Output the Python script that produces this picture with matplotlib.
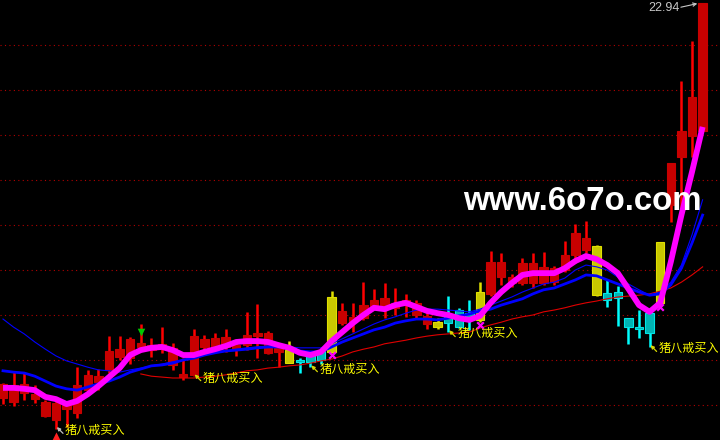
import matplotlib
matplotlib.use('Agg')
import matplotlib.pyplot as plt
from matplotlib.patches import Rectangle
import numpy as np

highs = [14.49, 14.73, 14.71, 14.44, 14.11, 14.11, 14.07, 14.84, 14.78, 14.80,
         15.53, 15.53, 15.51, 15.80, 15.49, 15.73, 15.38, 15.04, 15.69, 15.56,
         15.60, 15.69, 15.44, 16.07, 16.24, 15.64, 15.33, 15.42, 15.04, 15.16,
         15.22, 16.53, 16.27, 16.27, 16.73, 16.58, 16.71, 16.60, 16.47, 16.33,
         16.07, 15.93, 16.42, 16.16, 16.33, 16.73, 17.42, 17.38, 16.91, 17.27,
         17.38, 17.40, 17.09, 17.64, 18.02, 18.09, 17.56, 16.78, 16.64, 15.93,
         16.11, 16.16, 17.62, 19.38, 21.20, 22.09, 22.94]
lows = [14.02, 13.98, 14.11, 14.04, 13.73, 13.47, 13.51, 13.71, 14.24, 14.33,
        14.71, 15.00, 14.91, 15.22, 15.07, 15.16, 14.78, 14.56, 14.64, 15.20,
        15.18, 15.18, 15.09, 15.22, 15.04, 15.13, 14.84, 14.93, 14.71, 14.84,
        14.91, 15.16, 15.78, 15.62, 15.89, 16.13, 15.93, 16.00, 15.96, 15.91,
        15.69, 15.69, 15.62, 15.71, 15.67, 15.84, 16.42, 16.67, 16.62, 16.67,
        16.60, 16.67, 16.67, 16.96, 17.16, 17.38, 16.42, 16.18, 15.76, 15.36,
        15.49, 15.29, 16.27, 18.07, 18.31, 19.51, 20.09]
opens = [14.16, 14.07, 14.27, 14.13, 13.76, 13.67, 13.91, 13.82, 14.33, 14.51,
         14.78, 15.07, 15.04, 15.29, 15.22, 15.24, 14.89, 14.62, 14.67, 15.29,
         15.27, 15.29, 15.22, 15.33, 15.53, 15.16, 15.18, 15.22, 15.00, 15.16,
         15.20, 15.18, 15.82, 15.84, 15.93, 16.18, 16.22, 16.16, 16.22, 16.00,
         15.80, 15.84, 15.96, 16.11, 16.04, 15.89, 16.47, 16.84, 16.71, 16.71,
         16.71, 16.71, 16.73, 17.00, 17.33, 17.44, 17.53, 16.49, 16.51, 15.93,
         15.73, 16.04, 16.27, 18.44, 19.51, 19.98, 20.09]
closes = [14.47, 14.44, 14.47, 14.24, 14.07, 14.04, 14.00, 14.44, 14.67, 14.64,
          15.20, 15.24, 15.47, 15.38, 15.33, 15.36, 15.27, 14.69, 15.53, 15.47,
          15.49, 15.51, 15.33, 15.56, 15.60, 15.60, 15.29, 14.93, 14.96, 14.96,
          15.00, 16.40, 16.09, 15.96, 16.22, 16.33, 16.38, 16.27, 16.33, 16.27,
          15.98, 15.73, 15.82, 15.73, 15.93, 16.51, 17.18, 17.18, 16.84, 17.16,
          17.16, 17.07, 17.04, 17.33, 17.82, 17.71, 16.44, 16.33, 16.38, 15.73,
          15.69, 15.60, 17.62, 19.38, 20.09, 20.84, 22.94]
candle_state = list("rrrrrrrrrrrrrrrrrrrrrrrrrrr" "y" "ccc" "y" "rrrrrrrrr" "y"
                    "ccc" "y" "rrrrrrrrrr" "y" "ccccc" "y" "rrrr")

line_pink = [14.38, 14.38, 14.36, 14.33, 14.18, 14.13, 14.02, 14.09, 14.24, 14.42,
             14.62, 14.82, 15.11, 15.22, 15.27, 15.29, 15.22, 15.11, 15.11, 15.18,
             15.24, 15.31, 15.40, 15.42, 15.42, 15.40, 15.33, 15.27, 15.16, 15.11,
             15.18, 15.42, 15.62, 15.82, 16.00, 16.16, 16.13, 16.22, 16.27, 16.18,
             16.09, 16.04, 16.00, 15.93, 15.89, 15.98, 16.27, 16.51, 16.71, 16.89,
             16.93, 16.93, 16.93, 17.04, 17.20, 17.31, 17.24, 17.11, 16.93, 16.58,
             16.22, 16.07, 16.27, 17.18, 18.22, 19.18, 20.18]
line_blue = [14.76, 14.73, 14.71, 14.64, 14.53, 14.42, 14.36, 14.33, 14.40, 14.47,
             14.53, 14.62, 14.73, 14.80, 14.87, 14.89, 14.93, 15.00, 15.04, 15.11,
             15.16, 15.20, 15.22, 15.24, 15.27, 15.29, 15.29, 15.27, 15.20, 15.18,
             15.18, 15.29, 15.40, 15.49, 15.58, 15.67, 15.73, 15.82, 15.87, 15.91,
             15.91, 15.89, 15.93, 15.98, 16.02, 16.09, 16.13, 16.22, 16.29, 16.36,
             16.47, 16.56, 16.60, 16.69, 16.78, 16.89, 16.87, 16.78, 16.69, 16.60,
             16.51, 16.44, 16.47, 16.67, 17.04, 17.60, 18.22]
line_blue_thin = [15.91, 15.73, 15.58, 15.40, 15.24, 15.09, 14.98, 14.91, 14.84, 14.78,
                  14.76, 14.73, 14.78, 14.82, 14.87, 14.91, 14.96, 15.00, 15.07, 15.11,
                  15.16, 15.20, 15.24, 15.27, 15.29, 15.31, 15.31, 15.29, 15.27, 15.27,
                  15.27, 15.36, 15.47, 15.58, 15.69, 15.80, 15.89, 15.96, 16.04, 16.11,
                  16.13, 16.13, 16.11, 16.09, 16.07, 16.13, 16.22, 16.31, 16.40, 16.51,
                  16.60, 16.69, 16.73, 16.82, 17.00, 17.11, 17.07, 17.00, 16.84, 16.69,
                  16.56, 16.44, 16.51, 16.73, 17.11, 17.78, 18.56]
line_red = [None] * 13 + [
    14.69, 14.64, 14.62, 14.60, 14.60, 14.60, 14.62, 14.64, 14.67, 14.71,
    14.76, 14.78, 14.82, 14.84, 14.87, 14.89, 14.93, 14.98, 15.02, 15.09,
    15.18, 15.24, 15.29, 15.36, 15.40, 15.44, 15.49, 15.53, 15.56, 15.58,
    15.60, 15.62, 15.71, 15.78, 15.84, 15.91, 15.96, 16.00, 16.07, 16.11,
    16.16, 16.22, 16.27, 16.31, 16.36, 16.40, 16.42, 16.44, 16.47, 16.53,
    16.60, 16.73, 16.89, 17.07]

signal_idx = [5, 18, 29, 42, 61]
signal_text = "猪八戒买入"
x_marks_idx = [31, 45, 62]
x_marks_val = [15.11, 15.78, 16.18]
grid_levels = [22, 21, 20, 19, 18, 17, 16, 15, 14]
top_label = "22.94"
watermark = "www.6o7o.com"

n = len(highs)
idx = np.arange(n)

fig = plt.figure(figsize=(7.2, 4.4), dpi=100, facecolor='black')
ax = fig.add_axes([0, 0, 1, 1])
ax.set_facecolor('black')
ax.set_xlim(-0.283, 67.64)
ax.set_ylim(13.222, 23.0)
ax.axis('off')

for g in grid_levels:
    ax.axhline(g, color='#b40000', lw=0.8, linestyle=(0, (1, 3)), zorder=1)

style = {
    'r': dict(wick='#ff0000', body='#c80000', edge='#c80000'),
    'y': dict(wick='#e0e000', body='#c8c800', edge='#e0e000'),
    'c': dict(wick='#00ffff', body='#00b4b4', edge='#00e6e6'),
}
for i in range(n):
    s = style[candle_state[i]]
    ax.vlines(i, lows[i], highs[i], color=s['wick'], lw=1.8, zorder=2)
    lo = min(opens[i], closes[i])
    h = abs(closes[i] - opens[i])
    if h < 0.04:
        lo = (opens[i] + closes[i]) / 2 - 0.02
        h = 0.04
    ax.add_patch(Rectangle((i - 0.4, lo), 0.8, h, facecolor=s['body'],
                           edgecolor=s['edge'], lw=0.8, zorder=3))

red_arr = np.array([np.nan if v is None else v for v in line_red], dtype=float)
ax.plot(idx, red_arr, color='#e00000', lw=0.8, zorder=4)
ax.plot(idx, line_blue_thin, color='#0000ff', lw=0.8, zorder=4)
ax.plot(idx, line_blue, color='#0000ff', lw=2.0, zorder=5)
ax.plot(idx, line_pink, color='#ff00ff', lw=4.2, zorder=6, solid_capstyle='butt')

ax.scatter(x_marks_idx, x_marks_val, marker='x', s=22, color='#ff00ff', lw=1.6, zorder=7)
ax.scatter([5], [13.31], marker='^', s=34, color='#ff2020', zorder=7, linewidths=0)
ax.scatter([13], [15.62], marker='v', s=30, color='#00c800', zorder=7, linewidths=0)

for k, i in enumerate(signal_idx):
    lo = lows[i]
    acol = '#c0c0c0' if k == 0 else '#d8d800'
    ax.annotate('', xy=(i + 0.08, lo + 0.04), xytext=(i + 0.66, lo - 0.10),
                arrowprops=dict(arrowstyle='-|>', color=acol, lw=0.9,
                                mutation_scale=5, shrinkA=0, shrinkB=0), zorder=8)
    ax.text(i + 0.85, lo - 0.04, signal_text, color='#ffff00', fontsize=8.7,
            family=['Noto Sans CJK SC', 'DejaVu Sans'], ha='left', va='center', zorder=8)

ax.text(60.85, 22.82, top_label, color='#c8c8c8', fontsize=9,
        family='Liberation Sans', ha='left', va='center', zorder=8)
ax.annotate('', xy=(65.5, 22.92), xytext=(63.95, 22.84),
            arrowprops=dict(arrowstyle='->', color='#c8c8c8', lw=0.8,
                            mutation_scale=6, shrinkA=0, shrinkB=0), zorder=8)

ax.text(463 / 720, 1 - 201 / 440, watermark, transform=ax.transAxes, color='white',
        fontsize=23.8, fontweight='bold', family='Liberation Sans',
        ha='left', va='center', zorder=10)

fig.savefig('out.png', dpi=100, facecolor='black')
